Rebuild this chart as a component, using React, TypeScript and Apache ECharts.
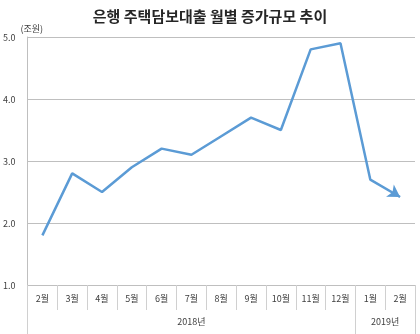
import React, { useEffect, useRef } from "react";
import * as echarts from "echarts";

const title = "은행 주택담보대출 월별 증가규모 추이";
const unit = "(조원)";
const months = ["2월", "3월", "4월", "5월", "6월", "7월", "8월", "9월", "10월", "11월", "12월", "1월", "2월"];
const values = [1.8, 2.8, 2.5, 2.9, 3.2, 3.1, 3.4, 3.7, 3.5, 4.8, 4.9, 2.7, 2.42];
const years = ["2018년", "2019년"];
const yearSpans = [11, 2];
const yTicks = [1, 2, 3, 4, 5];

export default function App() {
  const ref = useRef<HTMLDivElement>(null);
  useEffect(() => {
    if (!ref.current) return;
    const chart = echarts.init(ref.current, null, { renderer: "svg" });
    const font = "'Noto Sans CJK KR', 'Noto Sans', sans-serif";
    const boundaries: number[] = [0];
    const centers: number[] = [];
    let acc = 0;
    yearSpans.forEach((s) => {
      centers.push(acc + s / 2);
      acc += s;
      boundaries.push(acc);
    });
    const n = months.length;
    const data = values.map((v, i) =>
      i === n - 1
        ? { value: v, symbol: "arrow", symbolSize: [11, 12], symbolRotate: -122, symbolOffset: [0, 0] }
        : { value: v }
    );
    chart.setOption({
      animation: false,
      title: {
        text: title,
        left: "center",
        top: 3,
        textStyle: { fontFamily: font, fontSize: 15, fontWeight: "bold", color: "#262626" },
      },
      grid: { left: 27, right: 5, top: 37, bottom: 49, containLabel: false },
      xAxis: [
        {
          type: "category",
          data: months,
          boundaryGap: true,
          axisLine: { show: true, lineStyle: { color: "#bfbfbf", width: 1 } },
          axisTick: { show: true, length: 25, lineStyle: { color: "#d0d0d0" } },
          axisLabel: { margin: 9, fontSize: 9, color: "#404040", fontFamily: font },
          splitLine: { show: false },
        },
        {
          type: "value",
          position: "bottom",
          min: 0,
          max: n,
          axisLine: { show: false },
          axisTick: { show: true, length: 49, customValues: boundaries, lineStyle: { color: "#d0d0d0" } },
          axisLabel: {
            show: true,
            customValues: centers,
            margin: 32,
            fontSize: 9,
            color: "#404040",
            fontFamily: font,
            formatter: (v: number) => {
              const idx = centers.findIndex((c) => Math.abs(c - v) < 1e-6);
              return idx >= 0 ? years[idx] : "";
            },
          },
          splitLine: { show: false },
        },
      ],
      yAxis: {
        type: "value",
        min: yTicks[0],
        max: yTicks[yTicks.length - 1],
        interval: 1,
        name: unit,
        nameLocation: "end",
        nameGap: 2,
        nameTextStyle: { fontFamily: font, fontSize: 9, color: "#404040", align: "left", padding: [0, 0, 0, -7] },
        axisLine: { show: true, lineStyle: { color: "#bfbfbf" } },
        axisTick: { show: false },
        axisLabel: {
          fontSize: 9,
          color: "#404040",
          fontFamily: font,
          margin: 12,
          formatter: (v: number) => v.toFixed(1),
        },
        splitLine: { show: true, lineStyle: { color: "#bfbfbf", width: 1 } },
      },
      series: [
        {
          type: "line",
          data,
          symbol: "none",
          showSymbol: true,
          lineStyle: { color: "#5b9bd5", width: 2.5 },
          itemStyle: { color: "#5b9bd5" },
        },
      ],
    });
    return () => chart.dispose();
  }, []);
  return <div ref={ref} style={{ position: "fixed", left: 0, top: 0, width: 420, height: 334 }} />;
}
